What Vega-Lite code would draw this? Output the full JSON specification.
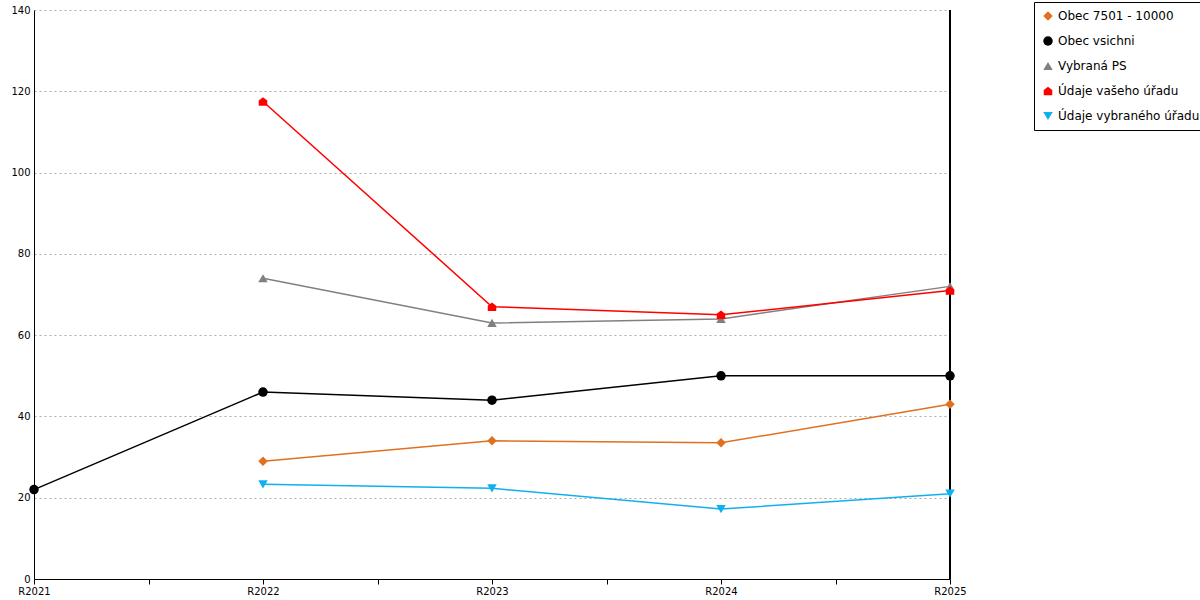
{
  "$schema": "https://vega.github.io/schema/vega-lite/v6.json",
  "width": 916,
  "height": 569,
  "autosize": "none",
  "padding": {"left": 34, "top": 10, "right": 250, "bottom": 21},
  "background": "white",
  "config": {
    "font": "DejaVu Sans",
    "view": {"stroke": null},
    "axis": {"labelFont": "DejaVu Sans", "labelFontSize": 11, "labelColor": "#000", "domainColor": "#000", "tickColor": "#000"},
    "legend": {"labelFont": "DejaVu Sans", "labelFontSize": 12, "labelColor": "#000", "labelLimit": 300}
  },
  "data": {
    "values": [
      {"s": "Obec 7501 - 10000", "i": 1, "v": 29},
      {"s": "Obec 7501 - 10000", "i": 2, "v": 34},
      {"s": "Obec 7501 - 10000", "i": 3, "v": 33.5},
      {"s": "Obec 7501 - 10000", "i": 4, "v": 43},
      {"s": "Obec vsichni", "i": 0, "v": 22},
      {"s": "Obec vsichni", "i": 1, "v": 46},
      {"s": "Obec vsichni", "i": 2, "v": 44},
      {"s": "Obec vsichni", "i": 3, "v": 50},
      {"s": "Obec vsichni", "i": 4, "v": 50},
      {"s": "Vybraná PS", "i": 1, "v": 74},
      {"s": "Vybraná PS", "i": 2, "v": 63},
      {"s": "Vybraná PS", "i": 3, "v": 64},
      {"s": "Vybraná PS", "i": 4, "v": 72},
      {"s": "Údaje vašeho úřadu", "i": 1, "v": 117.5},
      {"s": "Údaje vašeho úřadu", "i": 2, "v": 67},
      {"s": "Údaje vašeho úřadu", "i": 3, "v": 65},
      {"s": "Údaje vašeho úřadu", "i": 4, "v": 71},
      {"s": "Údaje vybraného úřadu", "i": 1, "v": 23.3},
      {"s": "Údaje vybraného úřadu", "i": 2, "v": 22.3},
      {"s": "Údaje vybraného úřadu", "i": 3, "v": 17.2},
      {"s": "Údaje vybraného úřadu", "i": 4, "v": 21}
    ]
  },
  "encoding": {
    "x": {
      "field": "i", "type": "quantitative", "title": null,
      "scale": {"domain": [0, 4], "nice": false},
      "axis": {
        "values": [0, 0.5, 1, 1.5, 2, 2.5, 3, 3.5, 4],
        "labelExpr": "datum.value % 1 == 0 ? 'R' + (2021 + datum.value) : ''",
        "grid": false, "tickSize": 5, "labelPadding": 2, "labelFontSize": 10, "labelFlush": false
      }
    },
    "y": {
      "field": "v", "type": "quantitative", "title": null,
      "scale": {"domain": [0, 140], "nice": false},
      "axis": {
        "values": [0, 20, 40, 60, 80, 100, 120, 140],
        "gridDash": [2, 3], "gridColor": "#aaa", "tickSize": 0, "labelPadding": 4, "labelFontSize": 10
      }
    },
    "color": {
      "field": "s", "type": "nominal", "title": null,
      "scale": {
        "domain": ["Obec 7501 - 10000", "Obec vsichni", "Vybraná PS", "Údaje vašeho úřadu", "Údaje vybraného úřadu"],
        "range": ["#e07020", "#000000", "#808080", "#ff0000", "#10b0f0"]
      },
      "legend": {
        "orient": "none", "legendX": 1000, "legendY": -8,
        "strokeColor": "#000", "padding": 8, "rowPadding": 13,
        "symbolSize": 90, "symbolStrokeWidth": 0, "fillColor": "white"
      }
    }
  },
  "layer": [
    {
      "mark": {"type": "rule", "color": "#000", "strokeWidth": 0.8},
      "encoding": {"x": {"datum": 4}, "y": null, "color": null}
    },
    {
      "mark": {"type": "line", "strokeWidth": 1.5},
      "encoding": {"detail": {"field": "s"}}
    },
    {
      "mark": {"type": "point", "filled": true, "opacity": 1, "size": 90},
      "encoding": {
        "shape": {
          "field": "s", "type": "nominal", "title": null,
          "scale": {
            "domain": ["Obec 7501 - 10000", "Obec vsichni", "Vybraná PS", "Údaje vašeho úřadu", "Údaje vybraného úřadu"],
            "range": ["diamond", "circle", "triangle-up", "M-0.9,0.9H0.9V-0.2L0,-0.9L-0.9,-0.2Z", "triangle-down"]
          },
          "legend": {
            "orient": "none", "legendX": 1000, "legendY": -8,
            "strokeColor": "#000", "padding": 8, "rowPadding": 13,
            "symbolSize": 90, "symbolStrokeWidth": 0, "fillColor": "white"
          }
        }
      }
    }
  ]
}
